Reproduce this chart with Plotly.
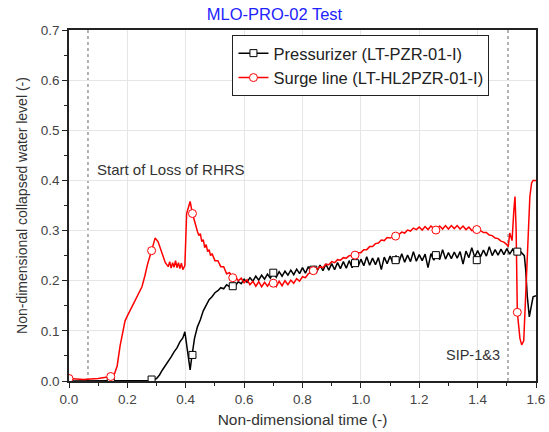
import plotly.graph_objects as go

# ---- data ----
pzr_x = [0.00, 0.10, 0.20, 0.28, 0.30, 0.31, 0.32, 0.33, 0.34, 0.35, 0.36, 0.37, 0.38, 0.39, 0.397,
         0.405, 0.415, 0.42, 0.43, 0.44, 0.45, 0.46, 0.47, 0.48, 0.49, 0.50, 0.51, 0.52, 0.53, 0.54,
         0.55, 0.56, 0.57, 0.58, 0.59, 0.60, 0.61, 0.62, 0.63, 0.64, 0.65, 0.66, 0.67, 0.68, 0.69,
         0.70, 0.71, 0.72, 0.73, 0.74, 0.75, 0.76, 0.77, 0.78, 0.79, 0.80, 0.81, 0.82, 0.83, 0.84,
         0.85, 0.86, 0.87, 0.88, 0.89, 0.90, 0.91, 0.92, 0.93, 0.94, 0.95, 0.96, 0.97, 0.98, 0.99,
         1.00, 1.01, 1.02, 1.03, 1.04, 1.05, 1.06, 1.07, 1.08, 1.09, 1.10, 1.11, 1.12, 1.13, 1.14,
         1.15, 1.16, 1.17, 1.18, 1.19, 1.20, 1.21, 1.22, 1.23, 1.24, 1.25, 1.26, 1.27, 1.28, 1.29,
         1.30, 1.31, 1.32, 1.33, 1.34, 1.35, 1.36, 1.37, 1.38, 1.39, 1.40, 1.41, 1.42, 1.43, 1.44,
         1.45, 1.46, 1.47, 1.48, 1.49, 1.50, 1.51, 1.52, 1.53, 1.54, 1.55, 1.56, 1.565, 1.57, 1.577,
         1.585, 1.59, 1.60]
pzr_y = [0.000, 0.000, 0.000, 0.001, 0.005, 0.012, 0.022, 0.030, 0.038, 0.048, 0.058, 0.066, 0.078, 0.086, 0.098,
         0.060, 0.022, 0.045, 0.085, 0.108, 0.122, 0.140, 0.150, 0.162, 0.168, 0.176, 0.180, 0.186, 0.184, 0.192,
         0.188, 0.194, 0.190, 0.198, 0.194, 0.203, 0.197, 0.206, 0.199, 0.209, 0.201, 0.211, 0.203, 0.213, 0.205,
         0.216, 0.207, 0.218, 0.209, 0.219, 0.211, 0.221, 0.212, 0.223, 0.214, 0.226, 0.215, 0.228, 0.217, 0.229,
         0.219, 0.231, 0.220, 0.233, 0.221, 0.234, 0.222, 0.236, 0.224, 0.238, 0.225, 0.240, 0.226, 0.241, 0.228,
         0.243, 0.230, 0.248, 0.231, 0.245, 0.232, 0.246, 0.222, 0.247, 0.234, 0.249, 0.235, 0.250, 0.236, 0.254,
         0.237, 0.251, 0.238, 0.258, 0.239, 0.252, 0.240, 0.253, 0.226, 0.254, 0.241, 0.255, 0.242, 0.262, 0.243,
         0.256, 0.244, 0.257, 0.245, 0.258, 0.233, 0.259, 0.246, 0.266, 0.247, 0.260, 0.248, 0.261, 0.249, 0.268,
         0.250, 0.262, 0.251, 0.263, 0.252, 0.264, 0.253, 0.263, 0.254, 0.262, 0.256, 0.250, 0.220, 0.170, 0.128,
         0.150, 0.168, 0.170]

surge_x = [0.00, 0.05, 0.10, 0.143, 0.155, 0.165, 0.175, 0.185, 0.192, 0.20, 0.21, 0.22, 0.23, 0.24, 0.25,
           0.26, 0.27, 0.283, 0.295, 0.305, 0.315, 0.325, 0.33, 0.34, 0.345, 0.35, 0.355, 0.36, 0.365, 0.37,
           0.375, 0.38, 0.385, 0.39, 0.397, 0.403, 0.415, 0.423, 0.43, 0.435, 0.44, 0.445, 0.45, 0.455, 0.46,
           0.465, 0.47, 0.475, 0.48, 0.485, 0.49, 0.50, 0.51, 0.52, 0.53, 0.54, 0.55, 0.561, 0.57, 0.58,
           0.59, 0.60, 0.61, 0.62, 0.63, 0.64, 0.65, 0.66, 0.67, 0.68, 0.69, 0.70, 0.71, 0.72, 0.73,
           0.74, 0.75, 0.76, 0.77, 0.78, 0.79, 0.80, 0.81, 0.82, 0.837, 0.85, 0.86, 0.87, 0.88, 0.89,
           0.90, 0.91, 0.92, 0.93, 0.94, 0.95, 0.96, 0.98, 0.99, 1.00, 1.01, 1.02, 1.03, 1.04, 1.05,
           1.06, 1.07, 1.08, 1.09, 1.10, 1.119, 1.13, 1.14, 1.15, 1.16, 1.17, 1.18, 1.19, 1.20, 1.21,
           1.22, 1.23, 1.24, 1.257, 1.27, 1.28, 1.29, 1.30, 1.31, 1.32, 1.33, 1.34, 1.35, 1.36, 1.37,
           1.38, 1.397, 1.41, 1.42, 1.43, 1.44, 1.45, 1.46, 1.47, 1.48, 1.49, 1.50, 1.505, 1.51, 1.518,
           1.524, 1.528, 1.532, 1.536, 1.545, 1.551, 1.558, 1.563, 1.568, 1.574, 1.579, 1.585, 1.59, 1.60]
surge_y = [0.005, 0.003, 0.005, 0.009, 0.013, 0.030, 0.070, 0.100, 0.120, 0.130, 0.142, 0.155, 0.165, 0.178, 0.188,
           0.210, 0.235, 0.260, 0.285, 0.278, 0.262, 0.245, 0.236, 0.228, 0.238, 0.225, 0.236, 0.227, 0.240, 0.226,
           0.236, 0.224, 0.235, 0.222, 0.230, 0.334, 0.358, 0.334, 0.318, 0.305, 0.298, 0.290, 0.294, 0.278, 0.282,
           0.266, 0.272, 0.258, 0.262, 0.250, 0.254, 0.240, 0.240, 0.228, 0.228, 0.214, 0.216, 0.206, 0.208, 0.200,
           0.205, 0.196, 0.202, 0.192, 0.199, 0.189, 0.198, 0.188, 0.197, 0.189, 0.198, 0.195, 0.188, 0.199, 0.190,
           0.200, 0.192, 0.201, 0.195, 0.204, 0.199, 0.208, 0.206, 0.214, 0.220, 0.222, 0.228, 0.226, 0.233, 0.232,
           0.238, 0.236, 0.242, 0.241, 0.246, 0.245, 0.250, 0.251, 0.256, 0.256, 0.262, 0.262, 0.268, 0.268, 0.274,
           0.275, 0.281, 0.280, 0.286, 0.285, 0.289, 0.292, 0.297, 0.295, 0.301, 0.299, 0.305, 0.302, 0.307, 0.301,
           0.308, 0.302, 0.309, 0.301, 0.309, 0.303, 0.310, 0.303, 0.310, 0.304, 0.310, 0.303, 0.309, 0.302, 0.307,
           0.300, 0.302, 0.300, 0.296, 0.296, 0.291, 0.290, 0.285, 0.284, 0.279, 0.277, 0.272, 0.268, 0.295, 0.280,
           0.340, 0.368, 0.300, 0.137, 0.085, 0.072, 0.080, 0.150, 0.235, 0.320, 0.368, 0.395, 0.400, 0.400]

# sparse symbols along each curve
pzr_mx = [0.00, 0.143, 0.283, 0.423, 0.561, 0.70, 0.837, 0.98, 1.119, 1.257, 1.397, 1.536]
pzr_my = [0.000, 0.000, 0.003, 0.052, 0.189, 0.216, 0.222, 0.235, 0.241, 0.251, 0.241, 0.258]
surge_mx = [0.00, 0.143, 0.283, 0.423, 0.561, 0.70, 0.837, 0.98, 1.119, 1.257, 1.397, 1.536]
surge_my = [0.005, 0.009, 0.260, 0.334, 0.206, 0.195, 0.220, 0.251, 0.289, 0.301, 0.302, 0.137]

event_x = [0.065, 1.504]

FONT = "Liberation Sans, Arial, sans-serif"

fig = go.Figure()

for xs, ys, col in [(pzr_x, pzr_y, "black"), (surge_x, surge_y, "#ff0000")]:
    fig.add_trace(go.Scatter(x=xs, y=ys, mode="lines", line=dict(color=col, width=1.5),
                             showlegend=False, hoverinfo="skip"))

fig.add_trace(go.Scatter(x=pzr_mx, y=pzr_my, mode="markers", showlegend=False,
                         marker=dict(symbol="square", size=7, color="white",
                                     line=dict(color="black", width=1))))
fig.add_trace(go.Scatter(x=surge_mx, y=surge_my, mode="markers", showlegend=False,
                         marker=dict(symbol="circle", size=8, color="white",
                                     line=dict(color="#ff0000", width=1))))

# legend entries
fig.add_trace(go.Scatter(x=[None], y=[None], mode="lines+markers", name="Pressurizer (LT-PZR-01-I)",
                         line=dict(color="black", width=1.5),
                         marker=dict(symbol="square", size=7, color="white", line=dict(color="black", width=1))))
fig.add_trace(go.Scatter(x=[None], y=[None], mode="lines+markers", name="Surge line (LT-HL2PZR-01-I)",
                         line=dict(color="#ff0000", width=1.5),
                         marker=dict(symbol="circle", size=8, color="white", line=dict(color="#ff0000", width=1))))

for ex in event_x:
    fig.add_shape(type="line", x0=ex, x1=ex, y0=0, y1=1, xref="x", yref="paper",
                  line=dict(color="#999999", width=1.5, dash="dot"), layer="below")

fig.add_annotation(x=0.089, y=0.421, text="Start of Loss of RHRS", showarrow=False,
                   xanchor="left", yanchor="middle", font=dict(family=FONT, size=15, color="#333333"))
fig.add_annotation(x=1.482, y=0.052, text="SIP-1&amp;3", showarrow=False,
                   xanchor="right", yanchor="middle", font=dict(family=FONT, size=14.5, color="#333333"))

axis_common = dict(showline=True, linecolor="#222222", linewidth=1.5, mirror=True,
                   ticks="outside", ticklen=5, tickwidth=1.2, tickcolor="#222222",
                   showgrid=True, gridcolor="#e6e6e6", gridwidth=1, zeroline=False,
                   automargin=False,
                   tickfont=dict(family=FONT, size=13.5, color="#444444"))

fig.update_layout(
    width=549, height=432,
    margin=dict(l=69, r=13, t=30, b=51),
    paper_bgcolor="white", plot_bgcolor="white",
    title=dict(text="MLO-PRO-02 Test", x=0.5, xanchor="center", y=0.967, yanchor="middle",
               font=dict(family=FONT, size=16.5, color="#2222ff")),
    xaxis=dict(range=[0, 1.6], dtick=0.2, tickformat=".1f",
               minor=dict(dtick=0.1, ticks="outside", ticklen=3, tickcolor="#222222", showgrid=False),
               title=dict(text="Non-dimensional time (-)", standoff=8,
                          font=dict(family=FONT, size=15.5, color="#333333")),
               **axis_common),
    yaxis=dict(range=[0, 0.7], dtick=0.1, tickformat=".1f",
               minor=dict(dtick=0.05, ticks="outside", ticklen=3, tickcolor="#222222", showgrid=False),
               title=dict(text="Non-dimensional collapsed water level (-)", standoff=10,
                          font=dict(family=FONT, size=14, color="#333333")),
               **axis_common),
    legend=dict(x=0.35, y=0.986, xanchor="left", yanchor="top",
                bordercolor="#222222", borderwidth=1, bgcolor="white",
                font=dict(family=FONT, size=16.5, color="#222222"),
                tracegroupgap=0, itemwidth=30),
    showlegend=True,
)

# the page body has a default 8px margin; drop it so the figure fills the window
fig.write_html("out.html", config={"displayModeBar": False},
               post_script="document.body.style.margin='0';")
